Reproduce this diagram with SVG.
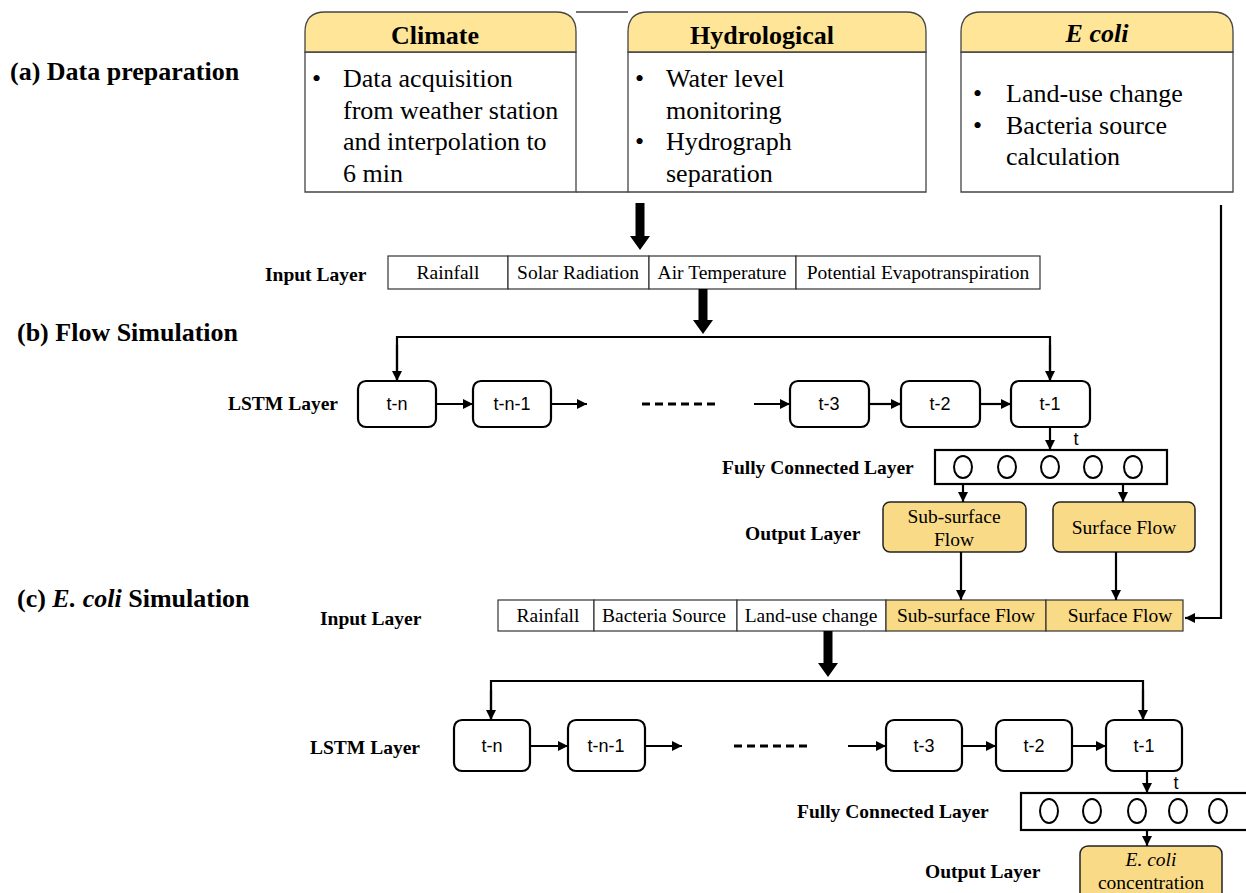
<svg xmlns="http://www.w3.org/2000/svg" width="1246" height="893" viewBox="0 0 1246 893">
<defs>
<marker id="ah" viewBox="0 0 10 10" refX="10" refY="5" markerWidth="10" markerHeight="10" markerUnits="userSpaceOnUse" orient="auto">
<path d="M0,0 L10,5 L0,10 Z" fill="#000"/>
</marker>
<style>
.lbl{font-family:"Liberation Serif",serif;font-weight:bold;font-size:19.5px;fill:#000}
.sec{font-family:"Liberation Serif",serif;font-weight:bold;font-size:26px;fill:#000}
.hdr{font-family:"Liberation Serif",serif;font-weight:bold;font-size:26px;fill:#000;text-anchor:middle}
.body{font-family:"Liberation Serif",serif;font-size:26px;fill:#000}
.cell{font-family:"Liberation Serif",serif;font-size:19.5px;fill:#000;text-anchor:middle}
.out{font-family:"Liberation Serif",serif;font-size:19.5px;fill:#000;text-anchor:middle}
.ts{font-family:"Liberation Sans",sans-serif;font-size:18px;fill:#000;text-anchor:middle}
.box{fill:#fff;stroke:#444;stroke-width:1.3}
.head{fill:#FFE597;stroke:#444;stroke-width:1.3}
.cellr{fill:#fff;stroke:#333;stroke-width:1.2}
.celly{fill:#F9DA86;stroke:#333;stroke-width:1.2}
.lstm{fill:#fff;stroke:#000;stroke-width:2.2}
.ybox{fill:#F9DA86;stroke:#222;stroke-width:1.5}
.fc{fill:#fff;stroke:#000;stroke-width:2.2}
.neu{fill:none;stroke:#000;stroke-width:2}
.ln{fill:none;stroke:#000;stroke-width:2.2}
.arr{fill:none;stroke:#000;stroke-width:2.2;marker-end:url(#ah)}
.dash{fill:none;stroke:#000;stroke-width:3;stroke-dasharray:8,5}
</style>
</defs>

<!-- section labels -->
<text class="sec" x="10" y="80">(a) Data preparation</text>
<text class="sec" x="17" y="341">(b) Flow Simulation</text>
<text class="sec" x="17" y="607">(c) <tspan font-style="italic">E. coli</tspan> Simulation</text>

<!-- (a) data boxes -->
<g id="frame-ab">
<path d="M576,12 L628,12 M576,192 L628,192" stroke="#444" stroke-width="1.3" fill="none"/>
</g>
<g id="node-climate">
<path class="box" d="M305,52 L576,52 L576,192 L305,192 Z"/>
<path class="head" d="M305,52 L305,32 Q305,12 325,12 L556,12 Q576,12 576,32 L576,52 Z"/>
<text class="hdr" x="435" y="44">Climate</text>
<text class="body" x="312" y="87">•</text>
<text class="body" x="343" y="87">Data acquisition</text>
<text class="body" x="343" y="119">from weather station</text>
<text class="body" x="343" y="150">and interpolation to</text>
<text class="body" x="343" y="182">6 min</text>
</g>
<g id="node-hydro">
<path class="box" d="M628,52 L926,52 L926,192 L628,192 Z"/>
<path class="head" d="M628,52 L628,32 Q628,12 648,12 L906,12 Q926,12 926,32 L926,52 Z"/>
<text class="hdr" x="762" y="44">Hydrological</text>
<text class="body" x="635" y="87">•</text>
<text class="body" x="666" y="87">Water level</text>
<text class="body" x="666" y="119">monitoring</text>
<text class="body" x="635" y="150">•</text>
<text class="body" x="666" y="150">Hydrograph</text>
<text class="body" x="666" y="182">separation</text>
</g>
<g id="node-ecoli">
<path class="box" d="M961,52 L1233,52 L1233,192 L961,192 Z"/>
<path class="head" d="M961,52 L961,32 Q961,12 981,12 L1213,12 Q1233,12 1233,32 L1233,52 Z"/>
<text class="hdr" x="1097" y="42" font-style="italic">E coli</text>
<text class="body" x="973" y="102">•</text>
<text class="body" x="1006" y="102">Land-use change</text>
<text class="body" x="973" y="134">•</text>
<text class="body" x="1006" y="134">Bacteria source</text>
<text class="body" x="1006" y="165">calculation</text>
</g>

<!-- (b) input layer -->
<text class="lbl" x="265" y="281">Input Layer</text>
<g id="node-input-b">
<rect class="cellr" x="388" y="256" width="120" height="33"/>
<rect class="cellr" x="508" y="256" width="141" height="33"/>
<rect class="cellr" x="649" y="256" width="147" height="33"/>
<rect class="cellr" x="796" y="256" width="244" height="33"/>
<text class="cell" x="448" y="279">Rainfall</text>
<text class="cell" x="578" y="279">Solar Radiation</text>
<text class="cell" x="722" y="279">Air Temperature</text>
<text class="cell" x="918" y="279">Potential Evapotranspiration</text>
</g>

<!-- (b) LSTM -->
<text class="lbl" x="228" y="410">LSTM Layer</text>
<g id="node-b-tn"><rect class="lstm" x="358" y="381" width="78" height="46" rx="8"/><text class="ts" x="397" y="410">t-n</text></g>
<g id="node-b-tn1"><rect class="lstm" x="473" y="381" width="78" height="46" rx="8"/><text class="ts" x="512" y="410">t-n-1</text></g>
<g id="node-b-t3"><rect class="lstm" x="790" y="381" width="79" height="46" rx="8"/><text class="ts" x="829" y="410">t-3</text></g>
<g id="node-b-t2"><rect class="lstm" x="901" y="381" width="79" height="46" rx="8"/><text class="ts" x="940" y="410">t-2</text></g>
<g id="node-b-t1"><rect class="lstm" x="1011" y="381" width="79" height="46" rx="8"/><text class="ts" x="1050" y="410">t-1</text></g>

<!-- (b) FC -->
<text class="lbl" x="722" y="474">Fully Connected Layer</text>
<g id="node-b-fc">
<rect class="fc" x="935" y="450" width="232" height="34"/>
<ellipse class="neu" cx="963" cy="467" rx="9" ry="11"/>
<ellipse class="neu" cx="1007" cy="467" rx="9" ry="11"/>
<ellipse class="neu" cx="1050" cy="467" rx="9" ry="11"/>
<ellipse class="neu" cx="1093" cy="467" rx="9" ry="11"/>
<ellipse class="neu" cx="1133" cy="467" rx="9" ry="11"/>
</g>

<!-- (b) output -->
<text class="lbl" x="745" y="540">Output Layer</text>
<g id="node-b-sub"><rect class="ybox" x="883" y="502" width="143" height="50" rx="7"/><text class="out" x="954" y="523">Sub-surface</text><text class="out" x="954" y="546">Flow</text></g>
<g id="node-b-surf"><rect class="ybox" x="1053" y="502" width="142" height="50" rx="7"/><text class="out" x="1124" y="534">Surface Flow</text></g>

<!-- (c) input layer -->
<text class="lbl" x="320" y="625">Input Layer</text>
<g id="node-input-c">
<rect class="cellr" x="498" y="600" width="96" height="31"/>
<rect class="cellr" x="594" y="600" width="143" height="31"/>
<rect class="cellr" x="737" y="600" width="149" height="31"/>
<rect class="celly" x="886" y="600" width="160" height="31"/>
<rect class="celly" x="1046" y="600" width="137" height="31"/>
<text class="cell" x="548" y="622">Rainfall</text>
<text class="cell" x="664" y="622">Bacteria Source</text>
<text class="cell" x="811" y="622">Land-use change</text>
<text class="cell" x="966" y="622">Sub-surface Flow</text>
<text class="cell" x="1120" y="622">Surface Flow</text>
</g>

<!-- (c) LSTM -->
<text class="lbl" x="310" y="754">LSTM Layer</text>
<g id="node-c-tn"><rect class="lstm" x="454" y="720" width="76" height="51" rx="8"/><text class="ts" x="492" y="752">t-n</text></g>
<g id="node-c-tn1"><rect class="lstm" x="568" y="720" width="77" height="51" rx="8"/><text class="ts" x="606" y="752">t-n-1</text></g>
<g id="node-c-t3"><rect class="lstm" x="886" y="720" width="76" height="51" rx="8"/><text class="ts" x="924" y="752">t-3</text></g>
<g id="node-c-t2"><rect class="lstm" x="996" y="720" width="76" height="51" rx="8"/><text class="ts" x="1034" y="752">t-2</text></g>
<g id="node-c-t1"><rect class="lstm" x="1106" y="720" width="76" height="51" rx="8"/><text class="ts" x="1144" y="752">t-1</text></g>

<!-- (c) FC -->
<text class="lbl" x="797" y="818">Fully Connected Layer</text>
<g id="node-c-fc">
<rect class="fc" x="1021" y="793" width="240" height="37"/>
<ellipse class="neu" cx="1049" cy="811" rx="9" ry="12"/>
<ellipse class="neu" cx="1092" cy="811" rx="9" ry="12"/>
<ellipse class="neu" cx="1137" cy="811" rx="9" ry="12"/>
<ellipse class="neu" cx="1178" cy="811" rx="9" ry="12"/>
<ellipse class="neu" cx="1218" cy="811" rx="9" ry="12"/>
</g>

<!-- (c) output -->
<text class="lbl" x="925" y="878">Output Layer</text>
<g id="node-c-out"><rect class="ybox" x="1080" y="846" width="142" height="60" rx="8"/><text class="out" x="1151" y="866" font-style="italic">E. coli</text><text class="out" x="1151" y="889">concentration</text></g>

<!-- connectors -->
<g id="connectors">
<polygon points="635.5,203 644.5,203 644.5,236 650,236 640,250 630,236 635.5,236" fill="#000"/>
<polygon points="698.5,289 707.5,289 707.5,320 713,320 703,334 693,320 698.5,320" fill="#000"/>
<polyline class="ln" points="397,381 397,337 1050,337 1050,381"/>
<line class="arr" x1="397" y1="345" x2="397" y2="381"/>
<line class="arr" x1="1050" y1="345" x2="1050" y2="381"/>
<line class="arr" x1="436" y1="404" x2="473" y2="404"/>
<line class="arr" x1="551" y1="404" x2="587" y2="404"/>
<line class="dash" x1="642" y1="404" x2="718" y2="404"/>
<line class="arr" x1="754" y1="404" x2="790" y2="404"/>
<line class="arr" x1="869" y1="404" x2="901" y2="404"/>
<line class="arr" x1="980" y1="404" x2="1011" y2="404"/>
<line class="arr" x1="1050" y1="427" x2="1050" y2="450"/>
<text class="ts" x="1076" y="445">t</text>
<line class="arr" x1="963" y1="484" x2="963" y2="502"/>
<line class="arr" x1="1123" y1="484" x2="1123" y2="502"/>
<line class="arr" x1="961" y1="552" x2="961" y2="600"/>
<line class="arr" x1="1116" y1="552" x2="1116" y2="600"/>
<polyline class="ln" points="1221,205 1221,618 1194,618"/>
<line class="arr" x1="1200" y1="618" x2="1185" y2="618"/>
<polygon points="823.5,631 832.5,631 832.5,663 838,663 828,677 818,663 823.5,663" fill="#000"/>
<polyline class="ln" points="491,720 491,681 1143,681 1143,720"/>
<line class="arr" x1="491" y1="690" x2="491" y2="720"/>
<line class="arr" x1="1143" y1="690" x2="1143" y2="720"/>
<line class="arr" x1="530" y1="746" x2="568" y2="746"/>
<line class="arr" x1="645" y1="746" x2="682" y2="746"/>
<line class="dash" x1="734" y1="746" x2="812" y2="746"/>
<line class="arr" x1="848" y1="746" x2="886" y2="746"/>
<line class="arr" x1="962" y1="746" x2="996" y2="746"/>
<line class="arr" x1="1072" y1="746" x2="1106" y2="746"/>
<line class="arr" x1="1147" y1="771" x2="1147" y2="793"/>
<text class="ts" x="1176" y="789">t</text>
<line class="arr" x1="1147" y1="830" x2="1147" y2="846"/>
</g>
</svg>
